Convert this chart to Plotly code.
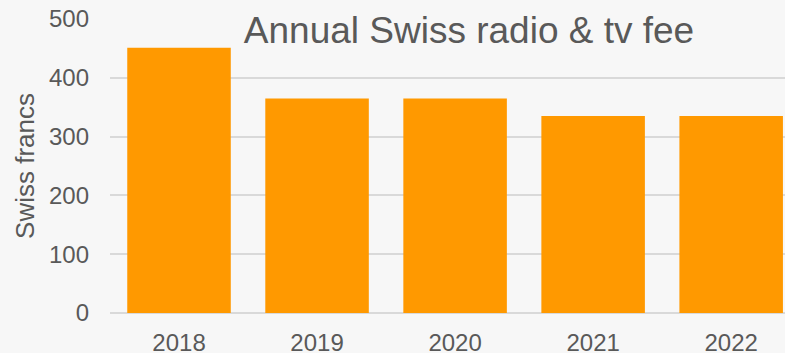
import plotly.graph_objects as go

years = ["2018", "2019", "2020", "2021", "2022"]
fees = [451, 365, 365, 335, 335]
y_ticks = [0, 100, 200, 300, 400, 500]

TXT = "#595959"
fig = go.Figure(go.Bar(x=years, y=fees, marker=dict(color="#ff9900", line=dict(width=0))))

fig.update_layout(
    width=785, height=353,
    paper_bgcolor="#f7f7f7", plot_bgcolor="#f7f7f7",
    margin=dict(l=110, r=0, t=19, b=40, autoexpand=False),
    bargap=0.25,
    showlegend=False,
    font=dict(family="Liberation Sans, Arial", color=TXT, size=24),
    title=dict(text="Annual Swiss radio & tv fee", x=469/785, xref="container", xanchor="center",
               y=1 - 30/353, yref="container", yanchor="middle",
               font=dict(size=37, color=TXT, family="Liberation Sans, Arial")),
)
fig.update_xaxes(type="category", range=[-0.5, 4.39], showgrid=False, showline=False, automargin=False,
                 tickfont=dict(size=24, color=TXT), ticks="", ticklabelstandoff=13)
fig.update_yaxes(range=[0, 500], tickvals=y_ticks, showgrid=True, gridcolor="#d9d9d9", gridwidth=1.5,
                 zeroline=True, zerolinecolor="#d9d9d9", zerolinewidth=1.5, showline=False, automargin=False,
                 tickfont=dict(size=24, color=TXT), ticks="", ticklabelstandoff=20,
                 title=dict(text="Swiss francs", font=dict(size=26, color=TXT), standoff=6))
fig.write_html("out.html", config={"displayModeBar": False},
               post_script="document.body.style.margin='0';document.body.style.padding='0';document.body.style.overflow='hidden';")
